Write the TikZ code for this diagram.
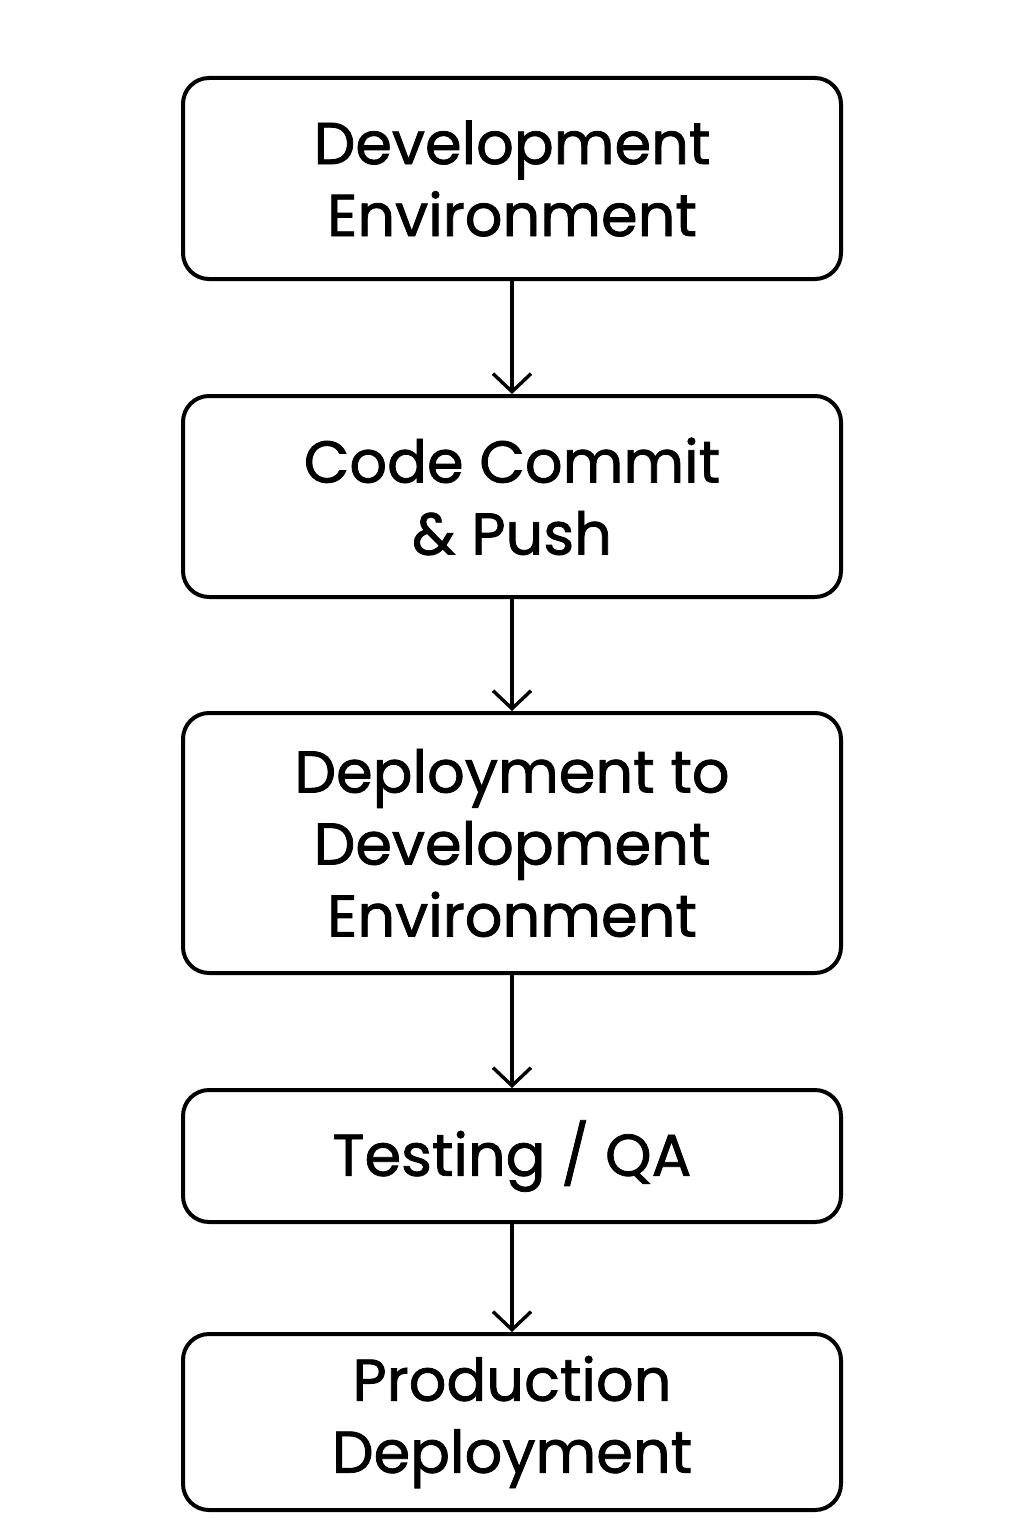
\documentclass[tikz,border=0pt]{standalone}
\usepackage{fontspec}
\setmainfont{Poppins}
\newfontfamily\medfont{Poppins}[FakeBold=1.3]
\usetikzlibrary{arrows.meta}
\begin{document}
\begin{tikzpicture}[x=0.5pt,y=-0.5pt,
  stage/.style={draw=black,line width=2pt,rounded corners=13pt,minimum width=329pt,align=center,font=\medfont\fontsize{29.5}{36}\selectfont,inner sep=0pt},
  flow/.style={line width=1.7pt,-{Straight Barb[length=9pt,width=19pt,line width=1.7pt]}}]
\useasboundingbox (0,0) rectangle (1024,1536);
\node[stage,minimum height=100.5pt] (a) at (512,178.5) {Development\\Environment};
\node[stage,minimum height=100.5pt] (b) at (512,496.5) {Code Commit\\\& Push};
\node[stage,minimum height=130pt] (c) at (512,843) {Deployment to\\Development\\Environment};
\node[stage,minimum height=66pt] (d) at (512,1156) {Testing / QA};
\node[stage,minimum height=88pt] (e) at (512,1422) {Production\\Deployment};
\draw[flow] (a) -- (b);
\draw[flow] (b) -- (c);
\draw[flow] (c) -- (d);
\draw[flow] (d) -- (e);
\end{tikzpicture}
\end{document}
